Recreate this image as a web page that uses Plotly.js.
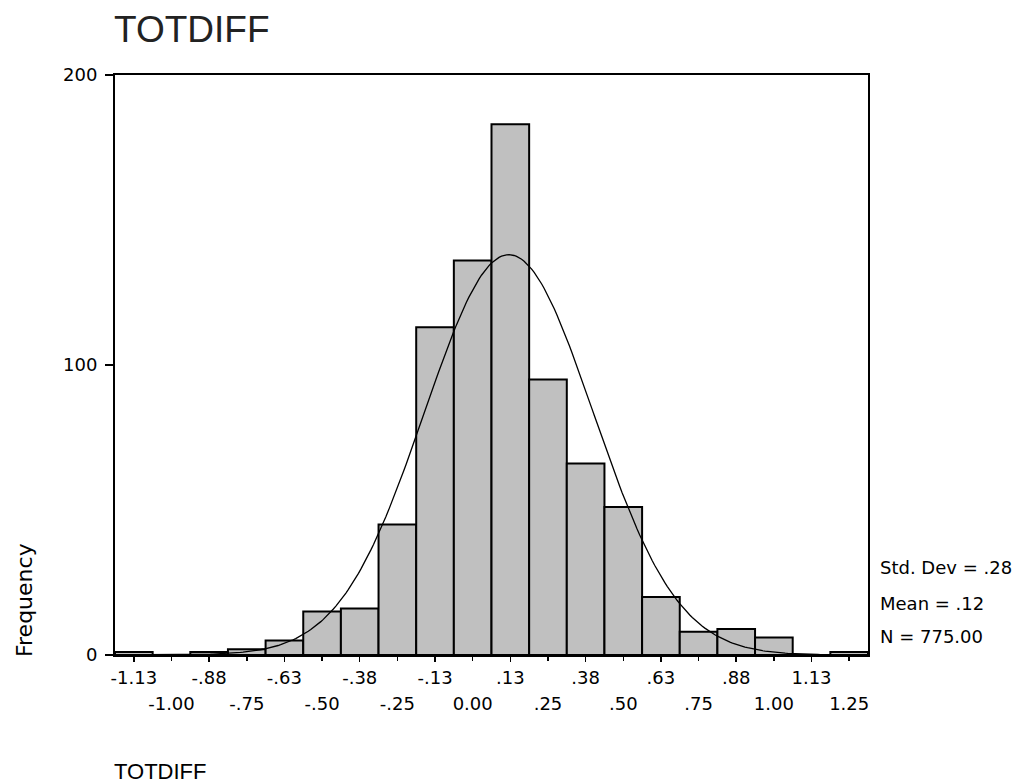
<!DOCTYPE html>
<html>
<head>
<meta charset="utf-8">
<script src="https://cdn.plot.ly/plotly-3.0.1.min.js"></script>
<style>html,body{margin:0;padding:0;background:#fff;}#chart{width:1029px;height:783px;}</style>
</head>
<body>
<div id="chart"></div>
<script>
// Histogram data (bin centres, width .125)
const binCenters = [-1.125, -1.0, -0.875, -0.75, -0.625, -0.5, -0.375, -0.25, -0.125, 0.0,
                    0.125, 0.25, 0.375, 0.5, 0.625, 0.75, 0.875, 1.0, 1.125, 1.25];
const frequencies = [1, 0, 1, 2, 5, 15, 16, 45, 113, 136,
                     183, 95, 66, 51, 20, 8, 9, 6, 0, 1];
const binWidth = 0.125;

// Summary statistics printed on the chart
const stdDev = 0.28;
const meanVal = 0.12;
const nCases = 775;

// Tick labels (two staggered rows)
const tickValsRow1 = [-1.125, -0.875, -0.625, -0.375, -0.125, 0.125, 0.375, 0.625, 0.875, 1.125];
const tickTextRow1 = ["-1.13", "-.88", "-.63", "-.38", "-.13", ".13", ".38", ".63", ".88", "1.13"];
const tickValsRow2 = [-1.0, -0.75, -0.5, -0.25, 0.0, 0.25, 0.5, 0.75, 1.0, 1.25];
const tickTextRow2 = ["-1.00", "-.75", "-.50", "-.25", "0.00", ".25", ".50", ".75", "1.00", "1.25"];
const yTickVals = [0, 100, 200];
const yTickText = ["0", "100", "200"];

// Fitted normal curve from the printed mean / std. dev / N
const xMin = binCenters[0] - binWidth / 2;
const xMax = binCenters[binCenters.length - 1] + binWidth / 2;
const curveX = [], curveY = [];
const steps = 300;
for (let i = 0; i <= steps; i++) {
  const x = xMin + (xMax - xMin) * i / steps;
  const z = (x - meanVal) / stdDev;
  curveX.push(x);
  curveY.push(nCases * binWidth / (stdDev * Math.sqrt(2 * Math.PI)) * Math.exp(-0.5 * z * z));
}

const tickFont = {family: "DejaVu Sans, Arial, sans-serif", size: 18, color: "#000"};

const traces = [
  {
    type: "bar", x: binCenters, y: frequencies, width: binWidth,
    marker: {color: "#c0c0c0", line: {color: "#000", width: 2}},
    hoverinfo: "x+y", xaxis: "x", yaxis: "y"
  },
  {
    type: "scatter", mode: "lines", x: curveX, y: curveY,
    line: {color: "#000", width: 1.3}, hoverinfo: "skip", xaxis: "x", yaxis: "y"
  },
  // invisible carrier so the second (staggered) label row is drawn
  {
    type: "scatter", mode: "none", x: binCenters, y: binCenters.map(() => null),
    hoverinfo: "skip", xaxis: "x2", yaxis: "y", showlegend: false
  }
];

const layout = {
  width: 1029, height: 783,
  margin: {l: 115, r: 161, t: 75, b: 128},
  paper_bgcolor: "#fff", plot_bgcolor: "#fff",
  showlegend: false, bargap: 0,
  title: {
    text: "TOTDIFF", x: 114 / 1029, xanchor: "left", xref: "container",
    y: 1 - 29 / 783, yanchor: "middle", yref: "container",
    font: {family: "Liberation Sans, Arial, sans-serif", size: 37, color: "#222"}
  },
  xaxis: {
    range: [xMin, xMax], tickmode: "array", tickvals: tickValsRow1, ticktext: tickTextRow1,
    ticks: "outside", ticklen: 5, tickwidth: 1.5, tickcolor: "#000",
    showline: true, linecolor: "#000", linewidth: 2, mirror: true,
    showgrid: false, zeroline: false, tickfont: tickFont, ticklabelstandoff: 0
  },
  xaxis2: {
    overlaying: "x", anchor: "y", side: "bottom",
    range: [xMin, xMax], tickmode: "array", tickvals: tickValsRow2, ticktext: tickTextRow2,
    ticks: "outside", ticklen: 5, tickwidth: 1.5, tickcolor: "#000",
    showline: false, showgrid: false, zeroline: false, tickfont: tickFont, ticklabelstandoff: 27
  },
  yaxis: {
    range: [0, 200], tickmode: "array", tickvals: yTickVals, ticktext: yTickText,
    ticks: "outside", ticklen: 8, tickwidth: 1.5, tickcolor: "#000",
    showline: true, linecolor: "#000", linewidth: 2, mirror: true,
    showgrid: false, zeroline: false, tickfont: tickFont, ticklabelstandoff: 4
  },
  annotations: [
    {text: "Frequency", textangle: -90, xref: "paper", yref: "paper",
     x: (24 - 115) / 753, y: (655 - 600) / 580, xanchor: "center", yanchor: "middle",
     showarrow: false, font: {family: "DejaVu Sans, Arial, sans-serif", size: 22, color: "#000"}},
    {text: "TOTDIFF", xref: "paper", yref: "paper",
     x: (112 - 115) / 753, y: (655 - 771) / 580, xanchor: "left", yanchor: "middle",
     showarrow: false, font: {family: "Liberation Sans, Arial, sans-serif", size: 22, color: "#000"}},
    {text: "Std. Dev = ." + Math.round(stdDev * 100), xref: "paper", yref: "paper",
     x: (878 - 115) / 753, y: (655 - 567) / 580, xanchor: "left", yanchor: "middle",
     showarrow: false, font: tickFont},
    {text: "Mean = ." + Math.round(meanVal * 100), xref: "paper", yref: "paper",
     x: (878 - 115) / 753, y: (655 - 603) / 580, xanchor: "left", yanchor: "middle",
     showarrow: false, font: tickFont},
    {text: "N = " + nCases.toFixed(2), xref: "paper", yref: "paper",
     x: (878 - 115) / 753, y: (655 - 636) / 580, xanchor: "left", yanchor: "middle",
     showarrow: false, font: tickFont}
  ]
};

Plotly.newPlot("chart", traces, layout, {displayModeBar: false, staticPlot: true});
</script>
</body>
</html>
